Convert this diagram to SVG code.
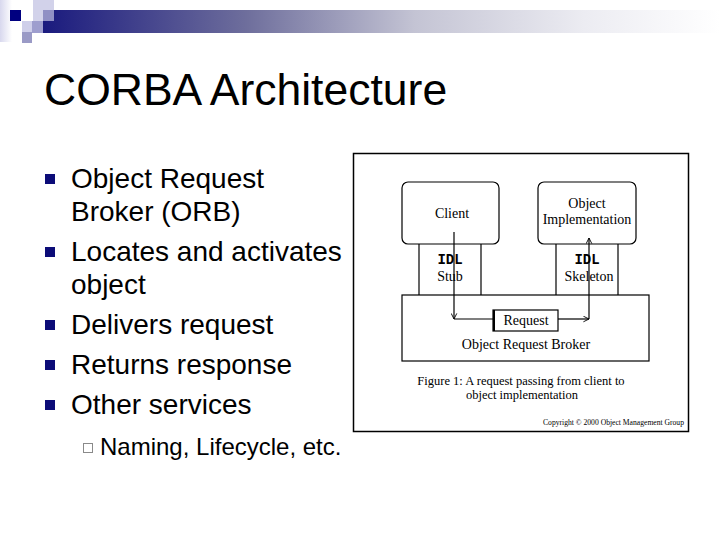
<svg xmlns="http://www.w3.org/2000/svg" width="720" height="540" viewBox="0 0 720 540">
<defs>
<linearGradient id="bar" x1="0" y1="0" x2="1" y2="0">
<stop offset="0" stop-color="#1a1a7e"/>
<stop offset="0.3" stop-color="#6e6e9c"/>
<stop offset="0.55" stop-color="#c4c4d4"/>
<stop offset="0.8" stop-color="#ececf2"/>
<stop offset="1" stop-color="#ffffff"/>
</linearGradient>
<linearGradient id="fade" x1="0" y1="0" x2="1" y2="0">
<stop offset="0" stop-color="#d8d8ee"/>
<stop offset="1" stop-color="#ffffff"/>
</linearGradient>
<marker id="open" viewBox="0 0 10 10" refX="9" refY="5" markerWidth="7" markerHeight="7" markerUnits="userSpaceOnUse" orient="auto">
<path d="M1,1 L9,5 L1,9" fill="none" stroke="#000" stroke-width="1.3"/>
</marker>
<style>
.sans{font-family:"Liberation Sans",Arial,sans-serif;fill:#000}
.serif{font-family:"Liberation Serif","Times New Roman",serif;fill:#000}
.mono{font-family:"Liberation Mono","Courier New",monospace;font-weight:bold;fill:#000}
.b{font-size:28px}
.bul{fill:#0c0c78}
.box{fill:#fff;stroke:#000;stroke-width:1.2}
.ln{fill:none;stroke:#000;stroke-width:1.2}
.lbl{font-size:14px;text-anchor:middle}
</style>
</defs>
<rect width="720" height="540" fill="#fff"/>
<g id="header">
<rect x="0" y="0" width="12" height="42" fill="url(#fade)"/>
<rect x="43" y="10" width="677" height="23" fill="url(#bar)"/>
<rect x="33" y="0" width="21" height="21" fill="#d2d2ea"/>
<rect x="43" y="10" width="11" height="11" fill="#9090c4"/>
<rect x="10" y="10" width="11" height="11" fill="#000080"/>
<rect x="22" y="21" width="21" height="12" fill="#cfcfea"/>
<rect x="32" y="21" width="11" height="12" fill="#9e9ece"/>
<rect x="22" y="32" width="10" height="11" fill="#9a9ac6"/>
</g>
<text class="sans" x="44" y="105" font-size="44.5">CORBA Architecture</text>
<g id="bullets">
<rect class="bul" x="45" y="174" width="10" height="10"/>
<text class="sans b" x="71" y="188">Object Request</text>
<text class="sans b" x="71" y="221">Broker (ORB)</text>
<rect class="bul" x="45" y="247" width="10" height="10"/>
<text class="sans b" x="71" y="261">Locates and activates</text>
<text class="sans b" x="71" y="294">object</text>
<rect class="bul" x="45" y="320" width="10" height="10"/>
<text class="sans b" x="71" y="334">Delivers request</text>
<rect class="bul" x="45" y="360" width="10" height="10"/>
<text class="sans b" x="71" y="374">Returns response</text>
<rect class="bul" x="45" y="400" width="10" height="10"/>
<text class="sans b" x="71" y="414">Other services</text>
<rect x="83.5" y="443.5" width="9" height="9" fill="none" stroke="#8a8a8a" stroke-width="1"/>
<text class="sans" x="100" y="455" font-size="24">Naming, Lifecycle, etc.</text>
</g>
<g id="figure">
<rect x="353.5" y="153.5" width="335" height="278" fill="#fff" stroke="#000" stroke-width="1.5"/>
<g id="stub">
<line class="ln" x1="419" y1="244" x2="419" y2="295"/>
<line class="ln" x1="481" y1="244" x2="481" y2="295"/>
<text class="mono lbl" x="450" y="264">IDL</text>
<text class="serif lbl" x="450" y="281">Stub</text>
</g>
<g id="skeleton">
<line class="ln" x1="556" y1="244" x2="556" y2="295" stroke-width="2"/>
<line class="ln" x1="618" y1="244" x2="618" y2="295"/>
<text class="mono lbl" x="587" y="264">IDL</text>
<text class="serif lbl" x="589" y="281">Skeleton</text>
</g>
<g id="client">
<rect class="box" x="402" y="182" width="97" height="62" rx="6"/>
<text class="serif lbl" x="452" y="218">Client</text>
</g>
<g id="object-implementation">
<rect class="box" x="538" y="182" width="98" height="62" rx="6"/>
<text class="serif lbl" x="587" y="208">Object</text>
<text class="serif lbl" x="587" y="224">Implementation</text>
</g>
<g id="orb">
<rect class="box" x="402" y="295" width="247" height="66"/>
<text class="serif lbl" x="526" y="349">Object Request Broker</text>
</g>
<g id="connectors">
<path class="ln" d="M454,232 V319" marker-end="url(#open)"/>
<path class="ln" d="M454,319 H493" stroke-width="2"/>
<path class="ln" d="M558,319 H589" stroke-width="2" marker-end="url(#open)"/>
<path class="ln" d="M589,319 V238" marker-end="url(#open)"/>
</g>
<g id="request">
<rect class="box" x="493" y="310" width="65" height="21"/>
<line x1="494" y1="310" x2="494" y2="331" stroke="#000" stroke-width="2"/>
<text class="serif lbl" x="526" y="325">Request</text>
</g>
<text class="serif" x="521" y="385" font-size="12.5" text-anchor="middle">Figure 1: A request passing from client to</text>
<text class="serif" x="522" y="399" font-size="12.5" text-anchor="middle">object implementation</text>
<text class="serif" x="543" y="425" font-size="8" textLength="141" lengthAdjust="spacingAndGlyphs">Copyright © 2000 Object Management Group</text>
</g>
</svg>
